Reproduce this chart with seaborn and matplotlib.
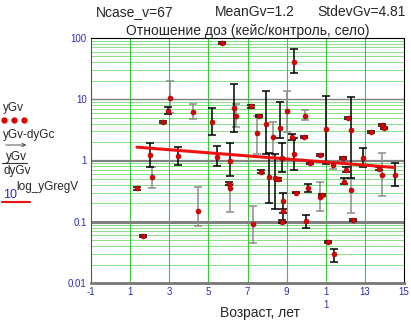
import matplotlib
matplotlib.use('Agg')
import matplotlib.pyplot as plt
from matplotlib.lines import Line2D
import numpy as np
import pandas as pd
import seaborn as sns

# header values
ncase = 67
mean_gv = 1.2
stdev_gv = 4.81

# dose ratio per case (age, ratio, lower / upper ends of the bar, bar colour)
age = [1.35, 1.65, 2.0, 2.1, 2.67, 2.93, 3.03, 3.45, 4.2, 4.46,
       5.17, 5.43, 5.68, 6.04, 6.1, 6.1, 6.3, 6.4, 7.2, 7.27,
       7.5, 7.57, 7.7, 7.97, 8.1, 8.3, 8.4, 8.55, 8.65, 8.75,
       8.8, 8.8, 8.75, 9.0, 9.3, 9.36, 9.4, 9.5, 9.9, 9.95,
       10.0, 10.1, 10.2, 10.7, 10.7, 10.8, 11.0, 11.1, 11.35, 11.4,
       11.9, 11.95, 12.05, 12.15, 12.3, 12.27, 12.4, 12.9, 13.3, 13.7,
       13.85, 14.0, 13.85, 14.55]
ratio = [0.35, 0.059, 1.25, 0.53, 4.2, 6.4, 10.4, 1.2, 6.1, 0.15,
         4.2, 1.16, 83, 0.42, 0.36, 1.0, 7.1, 5.4, 7.7, 0.093,
         2.8, 5.3, 0.66, 3.9, 0.53, 2.4, 0.51, 0.49, 3.4, 1.08,
         0.22, 0.15, 0.10, 6.4, 2.4, 40, 1.3, 0.3, 2.4, 5.3,
         0.104, 0.35, 0.9, 1.25, 0.25, 0.27, 3.3, 0.047, 0.85, 0.03,
         1.08, 0.44, 0.71, 4.9, 3.1, 0.33, 0.108, 1.1, 2.9, 0.74,
         3.75, 3.4, 0.59, 0.59]
ratio_lo = [0.33, 0.057, 0.77, 0.35, 4.05, 5.8, 5.9, 0.86, 4.7, 0.086,
            2.6, 0.8, 80, 0.40, 0.146, 0.55, 2.9, 3.5, 7.3, 0.045,
            1.3, 5.1, 0.63, 1.3, 0.2, 1.1, 0.16, 0.47, 2.3, 0.66,
            0.1, 0.14, 0.095, 2.9, 2.2, 26.5, 0.7, 0.29, 2.3, 4.5,
            0.08, 0.31, 0.87, 1.2, 0.15, 0.26, 0.89, 0.045, 0.73, 0.022,
            1.04, 0.41, 0.66, 4.7, 0.51, 0.14, 0.104, 0.77, 2.8, 0.7,
            3.6, 3.3, 0.26, 0.39]
ratio_hi = [0.37, 0.061, 1.9, 0.77, 4.35, 7.5, 20, 1.65, 8.5, 0.37,
            7.1, 1.75, 86, 0.44, 0.42, 1.95, 18, 8.5, 8.1, 0.18,
            5.3, 5.5, 0.69, 13.5, 1.35, 4.2, 1.3, 0.51, 8.9, 1.9,
            0.3, 0.16, 0.105, 13.5, 2.7, 66, 2.3, 0.31, 2.5, 6.6,
            0.13, 0.41, 0.93, 1.3, 0.45, 0.28, 11.2, 0.049, 1.0, 0.036,
            1.12, 0.52, 0.78, 5.1, 10.8, 0.5, 0.112, 1.6, 3.0, 0.78,
            3.9, 3.5, 1.35, 0.9]
bar_col = ['k', 'k', 'k', 'g', 'k', 'k', 'g', 'k', 'g', 'g',
           'k', 'k', 'k', 'k', 'g', 'k', 'k', 'g', 'k', 'g',
           'g', 'k', 'k', 'k', 'k', 'g', 'k', 'k', 'k', 'k',
           'k', 'k', 'k', 'g', 'k', 'k', 'k', 'k', 'k', 'g',
           'k', 'k', 'k', 'k', 'g', 'k', 'k', 'k', 'g', 'k',
           'k', 'k', 'k', 'k', 'k', 'g', 'k', 'k', 'k', 'k',
           'k', 'k', 'g', 'k']

# regression line log_yGregV (end points)
reg_age = [1.35, 14.5]
reg_ratio = [1.65, 0.77]

x_ticks = [-1, 1, 3, 5, 7, 9, 11, 13, 15]
x_labels = ['-1', '1', '3', '5', '7', '9', '1\n1', '13', '15']
y_ticks = [0.01, 0.1, 1, 10, 100]
y_labels = ['0.01', '0.1', '1', '10', '100']

df = pd.DataFrame({'age': age, 'ratio': ratio, 'lo': ratio_lo,
                   'hi': ratio_hi, 'col': bar_col})
df_reg = pd.DataFrame({'age': reg_age, 'ratio': reg_ratio})

sns.set_style('white')
plt.rcParams['font.family'] = ['Liberation Sans', 'DejaVu Sans']

fig = plt.figure(figsize=(4.11, 3.22), dpi=100)
ax = fig.add_axes([91/411, 1-283/322, (404-91)/411, (283-38)/322])
ax.set_yscale('log')
ax.set_xlim(-1, 15)
ax.set_ylim(0.01, 100)

# grid: green minor horizontals, grey decades, green verticals at odd ages
for dec in [0.01, 0.1, 1, 10]:
    for m in range(2, 10):
        ax.axhline(dec*m, color='#86e286', lw=0.7, zorder=0)
for dec, lw in [(0.1, 2.2), (1, 1.6), (10, 1.0)]:
    ax.axhline(dec, color='#808080', lw=lw, zorder=0.5)
for xv in [1, 3, 5, 7, 9, 11, 13]:
    ax.axvline(xv, color='#33cc33', lw=0.8, zorder=0.4)

# error bars
for col, c in [('g', '#8c8c8c'), ('k', '#000000')]:
    sub = df[df.col == col]
    ax.errorbar(sub.age, sub.ratio, yerr=[sub.ratio-sub.lo, sub.hi-sub.ratio],
                fmt='none', ecolor=c, elinewidth=1.1, capsize=3, capthick=1.1,
                zorder=2)

sns.lineplot(data=df_reg, x='age', y='ratio', ax=ax, color='#ee1111',
             lw=2.2, zorder=3)
sns.scatterplot(data=df, x='age', y='ratio', ax=ax, color='#dd0000',
                s=13, edgecolor='#990000', linewidth=0.4, zorder=4)

ax.set_xticks(x_ticks)
ax.set_xticklabels(x_labels, fontsize=7, color='#2b2bb5', linespacing=1.3)
ax.set_yticks(y_ticks)
ax.set_yticklabels(y_labels, fontsize=7, color='#2b2bb5')
ax.yaxis.set_minor_locator(matplotlib.ticker.NullLocator())
ax.tick_params(length=0, pad=3)
ax.set_xlabel('Возраст, лет', fontsize=10, va='center')
ax.xaxis.set_label_coords((260-91)/313, (283-313)/245)
ax.set_ylabel('')
ax.set_title('Отношение доз (кейс/контроль, село)', fontsize=10, pad=2)

for side in ['top', 'right']:
    ax.spines[side].set_color('black')
    ax.spines[side].set_linewidth(0.8)
ax.spines['left'].set_color('#555555')
ax.spines['bottom'].set_color('#777777')
ax.spines['bottom'].set_linewidth(2)

# header
fig.text(135/411, 1-12/322, f'Ncase_v={ncase}', ha='center', va='center', fontsize=10)
fig.text(255/411, 1-12/322, f'MeanGv={mean_gv}', ha='center', va='center', fontsize=10)
fig.text(362/411, 1-12/322, f'StdevGv={stdev_gv}', ha='center', va='center', fontsize=10)

# left legend
H = 322.0
fig.text(3/411, 1-108/H, 'yGv', fontsize=8.5, va='center')
for xd in [4, 14, 24]:
    fig.add_artist(Line2D([xd/411], [1-120/H], marker='o', color='#dd0000',
                          ms=3.5, transform=fig.transFigure))
fig.text(3/411, 1-135/H, 'yGv-dyGc', fontsize=8.5, va='center')
fig.add_artist(matplotlib.patches.FancyArrowPatch((3/411, 1-145/H), (29/411, 1-145/H),
               arrowstyle='->', mutation_scale=6, lw=0.6, color='#333333',
               transform=fig.transFigure))
fig.text(6/411, 1-157/H, 'yGv', fontsize=8.5, va='center')
fig.add_artist(Line2D([2/411, 27/411], [1-163/H, 1-163/H], color='#333333',
                      lw=0.8, transform=fig.transFigure))
fig.text(3/411, 1-171/H, 'dyGv', fontsize=8.5, va='center')
fig.text(3/411, 1-195/H, '10', fontsize=9, va='center', color='#2b2bb5')
fig.text(16/411, 1-187/H, 'log_yGregV', fontsize=8.5, va='center')
fig.add_artist(Line2D([2/411, 30/411], [1-202/H, 1-202/H], color='#ee1111',
                      lw=1.5, transform=fig.transFigure))

fig.savefig('out.png', dpi=100)
